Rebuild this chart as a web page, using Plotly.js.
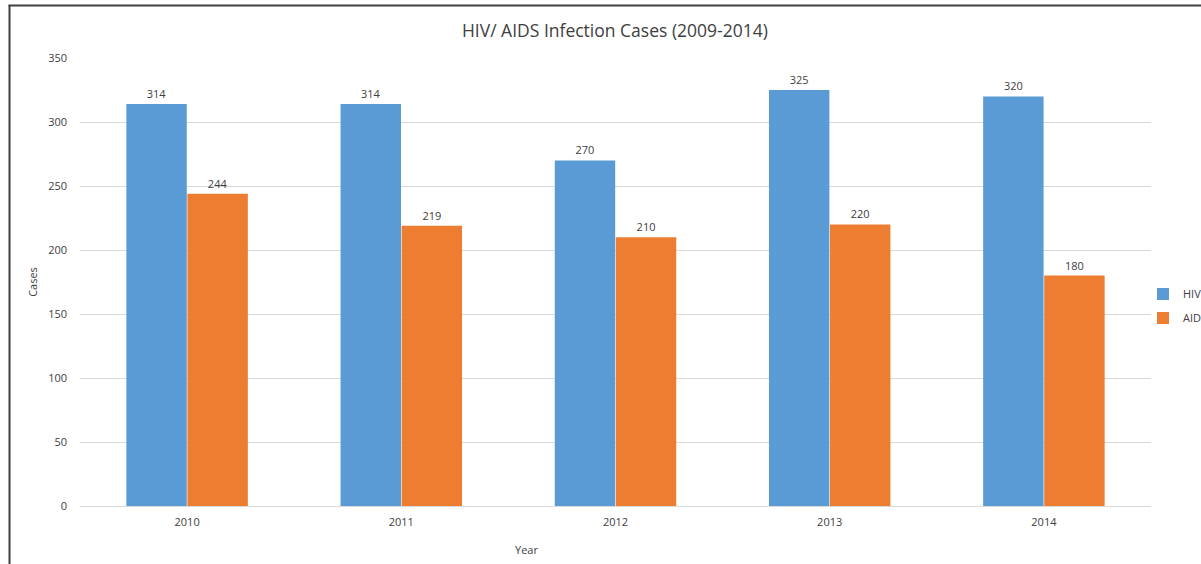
<!DOCTYPE html>
<html>
<head>
<meta charset="utf-8">
<script src="https://cdn.plot.ly/plotly-3.0.1.min.js"></script>
<style>html,body{margin:0;padding:0;background:#fff;}#chart{width:1201px;height:564px;}</style>
</head>
<body>
<div id="chart"></div>
<script>
const years = ["2010", "2011", "2012", "2013", "2014"];
const hivCases = [314, 314, 270, 325, 320];
const aidsCases = [244, 219, 210, 220, 180];
const seriesNames = ["HIV", "AIDS"];

const FONT = "Open Sans, Noto Sans, sans-serif";
const txt = {family: FONT, size: 11, color: "#404040"};

const traces = [
  {type: "bar", name: seriesNames[0], legendgroup: "a", x: years, y: hivCases, text: hivCases.map(String),
   textposition: "outside", textfont: txt, cliponaxis: false, marker: {color: "#5B9BD5"}, hoverinfo: "x+y"},
  {type: "bar", name: seriesNames[1], legendgroup: "b", x: years, y: aidsCases, text: aidsCases.map(String),
   textposition: "outside", textfont: txt, cliponaxis: false, marker: {color: "#ED7D31"}, hoverinfo: "x+y"}
];

const layout = {
  width: 1201, height: 564,
  margin: {l: 80, r: 50, t: 58, b: 58, autoexpand: false},
  paper_bgcolor: "#fff", plot_bgcolor: "#fff",
  font: {family: FONT, size: 11, color: "#404040"},
  title: {text: "HIV/ AIDS Infection Cases (2009-2014)", font: {family: FONT, size: 17.5, color: "#404040"},
          x: 0.512, xanchor: "center", y: 0.945, yanchor: "middle"},
  barmode: "group", bargap: 0.43, bargroupgap: 0.01,
  xaxis: {type: "category", showgrid: false, showline: false, ticks: "", tickfont: txt,
          ticklabelstandoff: 8, fixedrange: true},
  yaxis: {range: [0, 350], dtick: 50, showgrid: true, gridcolor: "#d9d9d9", gridwidth: 1,
          zeroline: true, zerolinecolor: "#d9d9d9", zerolinewidth: 1, showline: false, ticks: "",
          tickfont: txt, ticklabelstandoff: 12,
          title: {text: "Cases", font: {family: FONT, size: 11, color: "#404040"}, standoff: 8}},
  showlegend: true,
  legend: {x: (1143 - 80) / 1071, xanchor: "left", y: (506 - 306) / 448, yanchor: "middle", font: txt,
           bgcolor: "rgba(0,0,0,0)", itemwidth: 30, tracegroupgap: 5},
  annotations: [
    {text: "Year", xref: "paper", yref: "paper", x: (526 - 80) / 1071, y: (506 - 549) / 448,
     xanchor: "center", yanchor: "middle", showarrow: false, font: {family: FONT, size: 11, color: "#404040"}}
  ],
  shapes: [
    {type: "line", xref: "paper", yref: "paper", x0: (9.5 - 80) / 1071, x1: (9.5 - 80) / 1071,
     y0: (506 - 5) / 448, y1: (506 - 570) / 448, line: {color: "#404040", width: 2}},
    {type: "line", xref: "paper", yref: "paper", x0: (8.5 - 80) / 1071, x1: (1205 - 80) / 1071,
     y0: (506 - 5.5) / 448, y1: (506 - 5.5) / 448, line: {color: "#404040", width: 2}}
  ]
};

Plotly.newPlot("chart", traces, layout, {displayModeBar: false, staticPlot: true});
</script>
</body>
</html>
